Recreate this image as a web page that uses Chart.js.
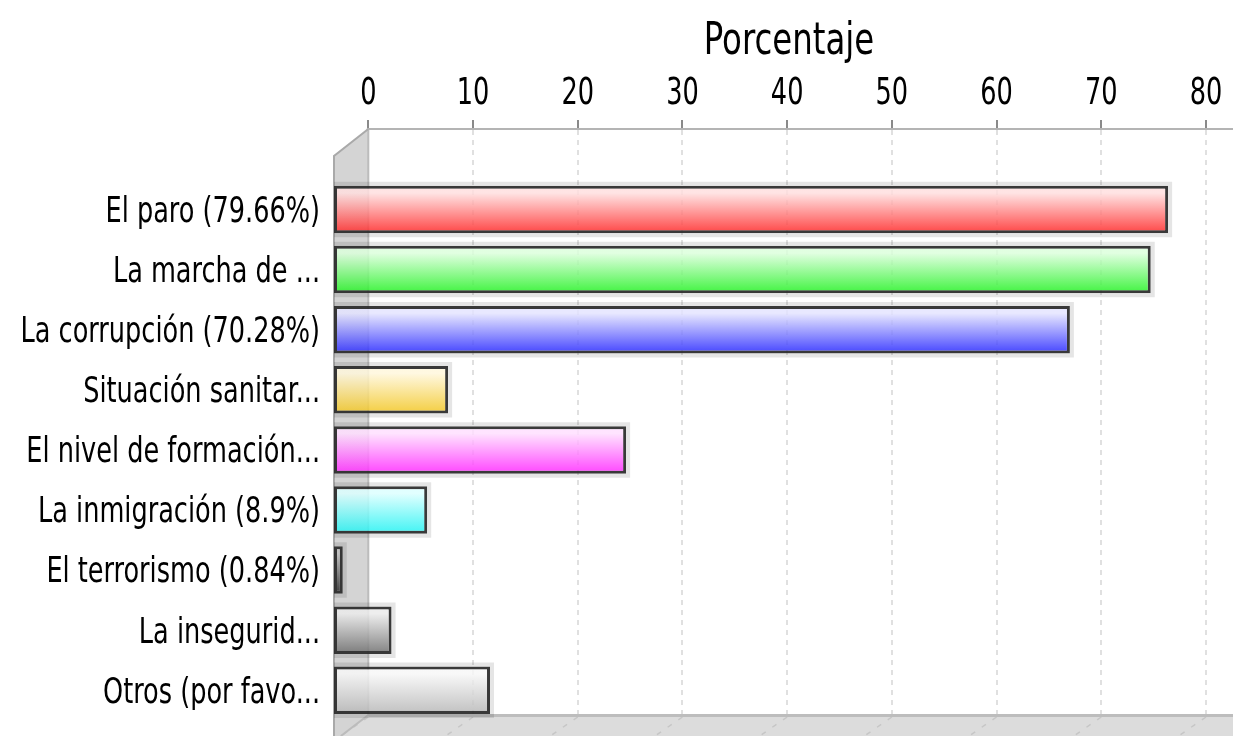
<!DOCTYPE html>
<html>
<head>
<meta charset="utf-8">
<title>Porcentaje</title>
<script src="https://cdn.jsdelivr.net/npm/chart.js@4/dist/chart.umd.min.js"></script>
<style>
  html, body { margin: 0; padding: 0; background: #fff; }
  canvas { display: block; }
</style>
</head>
<body>
<canvas id="bars" width="1233" height="736"></canvas>
<script>
// data
const categories = [
  'El paro (79.66%)',
  'La marcha de ...',
  'La corrupción (70.28%)',
  'Situación sanitar...',
  'El nivel de formación...',
  'La inmigración (8.9%)',
  'El terrorismo (0.84%)',
  'La insegurid...',
  'Otros (por favo...'
];
const percentages = [79.66, 78.0, 70.28, 10.9, 27.9, 8.9, 0.84, 5.5, 14.9];
const tickValues = [0, 10, 20, 30, 40, 50, 60, 70, 80];
const axisTitle = 'Porcentaje';

(function(){
  const FONT = "'DejaVu Sans Condensed', 'DejaVu Sans', sans-serif";
  // the original font is much narrower, so texts get squeezed sideways
  const SQUEEZE = { y: 0.79, x2: 0.77, title: 0.80 };
  const ALPHA = 0.85;

  class NarrowScale extends Chart.LinearScale {
    drawLabels(chartArea) {
      if (!this.options.ticks.display) return;
      const ctx = this.ctx;
      const nudge = this.id === 'y' ? 3 : 0;
      const k = SQUEEZE[this.id] || 0.78;
      this.getLabelItems(chartArea).forEach(item => {
        const t = item.options.translation;
        ctx.save();
        ctx.translate(t[0], t[1] + nudge);
        ctx.scale(k, 1);
        Chart.helpers.renderText(ctx, item.label, 0, item.textOffset, item.font,
          Object.assign({}, item.options, { translation: undefined }));
        ctx.restore();
      });
    }
    drawTitle() {
      const ctx = this.ctx;
      const cx = (this.left + this.right) / 2;
      ctx.save();
      ctx.translate(cx + 6, 0);
      ctx.scale(SQUEEZE.title, 1);
      ctx.translate(-cx, 0);
      super.drawTitle();
      ctx.restore();
    }
  }
  NarrowScale.id = 'narrow';
  NarrowScale.defaults = Chart.LinearScale.defaults;
  Chart.register(NarrowScale);

  // colour on white as seen in the picture: [top, bottom]
  const seen = [
    [[255,228,228],[255,85,85]],
    [[225,255,225],[80,245,80]],
    [[232,232,255],[85,85,255]],
    [[255,248,225],[245,210,80]],
    [[255,228,255],[255,85,255]],
    [[225,255,255],[80,245,245]],
    [[200,200,200],[80,80,80]],
    [[238,238,238],[140,140,140]],
    [[248,248,248],[198,198,198]]
  ];
  const rgba = c => 'rgba(' + c.map(v => Math.max(0, Math.round(255 - (255 - v) / ALPHA))).join(',') + ',' + ALPHA + ')';

  const barFill = (ctx) => {
    const i = ctx.dataIndex;
    const pair = seen[i] || seen[0];
    const chart = ctx.chart;
    const ys = chart.scales && chart.scales.y;
    if (i === undefined || !chart.chartArea || !ys) return rgba(pair[1]);
    const c = ys.getPixelForValue(i);
    const half = Math.abs(ys.getPixelForValue(1) - ys.getPixelForValue(0)) * 0.782 / 2;
    const g = chart.ctx.createLinearGradient(0, c - half, 0, c + half);
    g.addColorStop(0, rgba(pair[0]));
    g.addColorStop(0.15, rgba(pair[0]));
    g.addColorStop(0.92, rgba(pair[1]));
    g.addColorStop(1, rgba(pair[1].map(v => v * 0.88)));
    return g;
  };

  // gray wall, floor and bar halos of the 3D look
  const backdrop = {
    id: 'backdrop',
    beforeDatasetsDraw(chart) {
      const { ctx, chartArea: a, scales } = chart;
      const backX = scales.x2.getPixelForValue(0);
      const frontX = a.left;
      const dx = backX - frontX;
      const dy = 27;
      const floorY = a.bottom - 21;
      ctx.save();

      // clear the axis line left of the wall
      ctx.fillStyle = '#fff';
      ctx.fillRect(a.left - 2, a.top - 3, dx + 0.5, 6);

      // floor
      const drop = dx * (a.bottom - floorY) / dy;
      ctx.fillStyle = '#dcdcdc';
      ctx.fillRect(frontX, floorY, a.right - frontX, a.bottom - floorY);
      ctx.strokeStyle = '#c6c6c6';
      ctx.lineWidth = 1.5;
      ctx.setLineDash([5, 8]);
      tickValues.forEach(v => {
        const px = scales.x2.getPixelForValue(v);
        ctx.beginPath();
        ctx.moveTo(px, floorY + 2);
        ctx.lineTo(px - drop, a.bottom);
        ctx.stroke();
      });
      ctx.setLineDash([]);
      ctx.strokeStyle = '#bdbdbd';
      ctx.lineWidth = 3;
      ctx.beginPath();
      ctx.moveTo(backX, floorY + 0.5);
      ctx.lineTo(a.right, floorY + 0.5);
      ctx.stroke();

      // wall
      ctx.fillStyle = '#d4d4d4';
      ctx.beginPath();
      ctx.moveTo(backX, a.top);
      ctx.lineTo(backX, floorY);
      ctx.lineTo(backX - drop, a.bottom);
      ctx.lineTo(frontX, a.bottom);
      ctx.lineTo(frontX, a.top + dy);
      ctx.closePath();
      ctx.fill();
      ctx.strokeStyle = '#bcbcbc';
      ctx.lineWidth = 2;
      ctx.beginPath();
      ctx.moveTo(backX, a.top);
      ctx.lineTo(backX, floorY);
      ctx.lineTo(backX - drop, a.bottom);
      ctx.stroke();
      ctx.strokeStyle = '#a9a9a9';
      ctx.beginPath();
      ctx.moveTo(backX, a.top);
      ctx.lineTo(frontX + 1, a.top + dy);
      ctx.lineTo(frontX + 1, a.bottom);
      ctx.stroke();

      // light halo round each bar
      const meta = chart.getDatasetMeta(0);
      ctx.fillStyle = 'rgba(0,0,0,0.10)';
      meta.data.forEach(bar => {
        const p = bar.getProps(['x', 'y', 'base', 'height'], true);
        const top = p.y - p.height / 2, w = p.x - p.base;
        ctx.beginPath();
        ctx.rect(p.base, top - 4, w + 4, p.height + 8);
        ctx.rect(p.base, top, w, p.height);
        ctx.fill('evenodd');
      });
      ctx.restore();
    }
  };

  new Chart(document.getElementById('bars'), {
    type: 'bar',
    data: {
      datasets: [{
        label: axisTitle,
        data: percentages.map((v, i) => ({ x: v, y: i })),
        xAxisID: 'x',
        yAxisID: 'y',
        backgroundColor: barFill,
        borderColor: 'rgba(40,40,40,0.92)',
        borderWidth: 3,
        borderSkipped: false,
        barPercentage: 0.79,
        categoryPercentage: 1
      }]
    },
    options: {
      indexAxis: 'y',
      responsive: false,
      animation: false,
      devicePixelRatio: 1,
      layout: { padding: 0 },
      scales: {
        x: {
          type: 'linear',
          display: false,
          offset: false,
          min: -0.0955,
          max: 85.856
        },
        x2: {
          type: 'narrow',
          position: 'top',
          bounds: 'data',
          offset: false,
          min: -3.371,
          max: 82.58,
          afterBuildTicks: s => { s.ticks = tickValues.map(v => ({ value: v })); },
          afterFit: s => { s.height = 129; s.paddingLeft = 0; s.paddingRight = 0; },
          ticks: { font: { family: FONT, size: 37 }, color: '#000', padding: 3, maxRotation: 0 },
          grid: { color: 'rgba(0,0,0,0.12)', lineWidth: 2, tickColor: '#8a8a8a', tickWidth: 2, tickLength: 9 },
          border: { display: true, color: '#b4b4b4', width: 2, dash: [5, 5] },
          title: { display: true, text: axisTitle, color: '#000', font: { family: FONT, size: 45 }, padding: { top: 15, bottom: 0 } }
        },
        y: {
          type: 'narrow',
          reverse: true,
          bounds: 'data',
          offset: false,
          min: -1.3394,
          max: 8.7604,
          afterBuildTicks: s => { s.ticks = categories.map((c, i) => ({ value: i })); },
          afterFit: s => { s.width = 333; s.paddingTop = 0; s.paddingBottom = 0; },
          ticks: { callback: v => categories[v], font: { family: FONT, size: 36 }, color: '#000', padding: 13, autoSkip: false },
          grid: { display: false, drawTicks: false, offset: false },
          border: { display: false }
        }
      },
      plugins: {
        legend: { display: false },
        tooltip: { enabled: false }
      }
    },
    plugins: [backdrop]
  });
})();
</script>
</body>
</html>
